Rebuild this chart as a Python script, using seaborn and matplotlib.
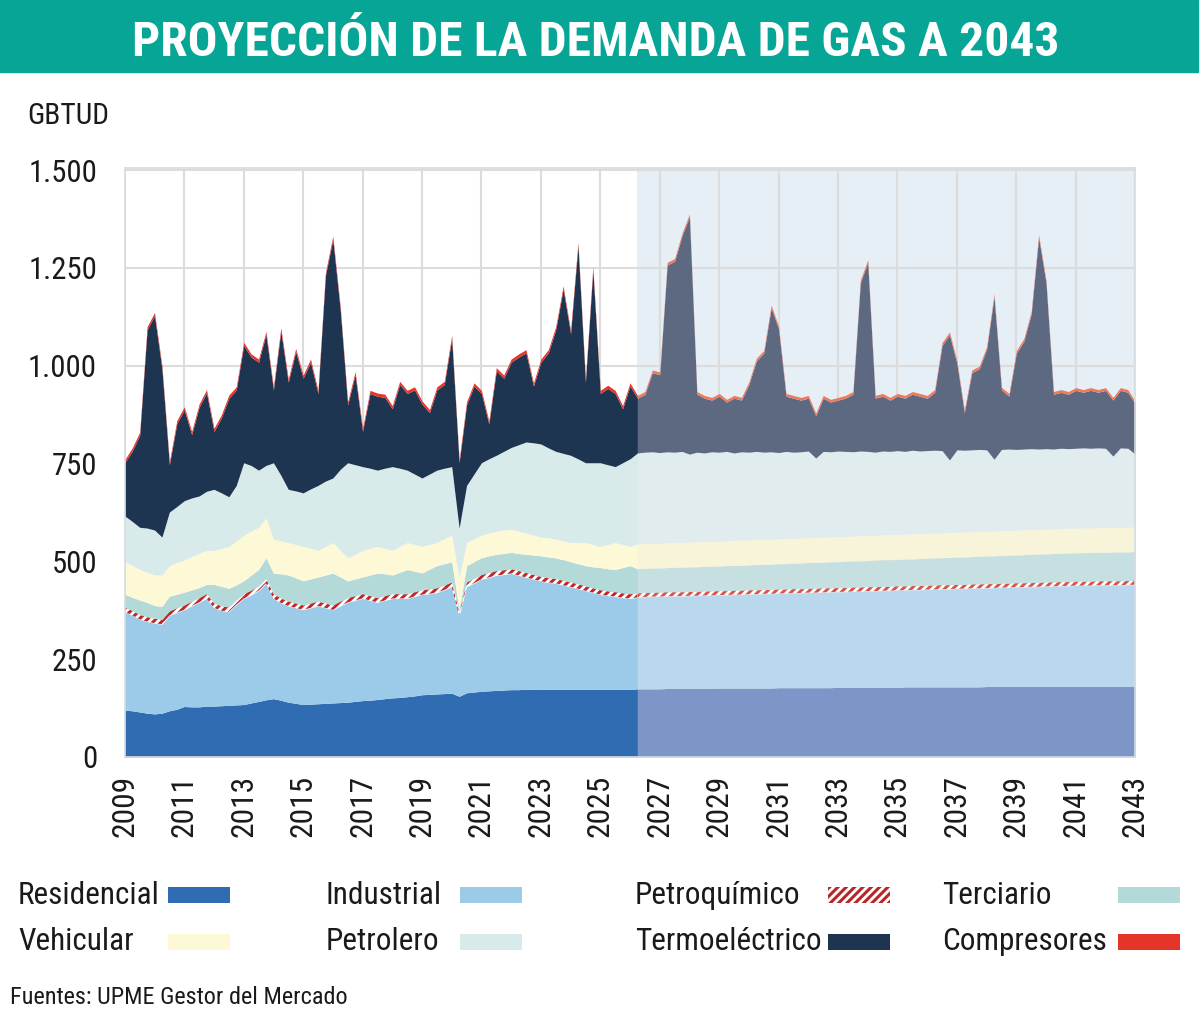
import numpy as np
import matplotlib
matplotlib.use('Agg')
import matplotlib.pyplot as plt
from matplotlib import font_manager as fm
from matplotlib.patches import Rectangle
import seaborn as sns

# eje temporal trimestral 2009 - 2043
periodos = np.arange(2009, 2043.01, 0.25)

# GBTUD por sector (lecturas trimestrales del gráfico, una fila por año)
residencial = [
    120, 118, 115, 112,  110, 112, 118, 122,  129, 128, 128, 130,  130, 131, 132, 133,
    134, 138, 142, 146,  149, 145, 140, 137,  134, 135, 136, 137,  138, 139, 140, 142,
    144, 145, 147, 149,  151, 152, 154, 156,  159, 160, 161, 162,  163, 155, 164, 166,
    168, 169, 170, 171,  172, 172, 173, 173,  173, 173, 173, 173,  173, 173, 173, 173,
    173, 173, 173, 173,  173, 174, 174, 174,  174, 175, 175, 175,  175, 175, 175, 175,
    176, 176, 176, 176,  176, 176, 176, 176,  177, 177, 177, 177,  177, 177, 177, 177,
    178, 178, 178, 178,  178, 178, 178, 178,  178, 179, 179, 179,  179, 179, 179, 179,
    179, 179, 179, 179,  180, 180, 180, 180,  180, 180, 180, 180,  180, 180, 180, 180,
    180, 180, 180, 180,  180, 180, 180, 180,  180]
industrial = [
    251, 244, 237, 234,  232, 227, 243, 247,  247, 258, 267, 275,  251, 243, 239, 256,
    271, 276, 283, 298,  256, 249, 246, 244,  242, 246, 250, 244,  238, 247, 255, 258,
    261, 255, 248, 251,  254, 253, 251, 254,  256, 257, 259, 265,  272, 206, 271, 278,
    286, 290, 294, 295,  297, 292, 286, 281,  276, 273, 271, 266,  262, 257, 252, 247,
    242, 239, 237, 234,  232, 234, 235, 236,  236, 236, 236, 236,  237, 237, 238, 238,
    238, 238, 239, 239,  240, 240, 241, 241,  241, 241, 242, 242,  243, 243, 244, 244,
    244, 244, 245, 245,  246, 246, 247, 247,  248, 247, 248, 248,  249, 249, 250, 250,
    251, 251, 252, 252,  252, 252, 253, 253,  254, 254, 255, 255,  256, 256, 257, 257,
    258, 258, 258, 259,  259, 259, 259, 260,  260]
petroquimico = [
    12, 12, 12, 12,  12, 12, 12, 12,  12, 12, 12, 12,  12, 12, 12, 12,
    12, 12, 12, 12,  12, 12, 12, 12,  12, 12, 12, 12,  12, 12, 12, 12,
    12, 12, 12, 12,  12, 12, 12, 12,  12, 12, 12, 12,  12, 10, 12, 12,
    12, 12, 12, 12,  12, 12, 12, 12,  12, 12, 12, 12,  12, 12, 12, 12,
    12, 12, 12, 12,  12, 11, 11, 11,  11, 11, 11, 11,  11, 11, 11, 11,
    11, 11, 11, 11,  11, 11, 11, 11,  11, 11, 11, 11,  11, 11, 11, 11,
    11, 11, 11, 11,  11, 11, 11, 11,  11, 11, 11, 11,  11, 11, 11, 11,
    11, 11, 11, 11,  11, 11, 11, 11,  11, 11, 11, 11,  11, 11, 11, 11,
    11, 11, 11, 11,  11, 11, 11, 11,  11]
terciario = [
    33, 34, 37, 37,  33, 34, 38, 35,  33, 29, 26, 24,  48, 50, 48, 39,
    33, 39, 42, 53,  53, 62, 67, 65,  62, 62, 62, 72,  82, 62, 43, 43,
    43, 53, 63, 56,  48, 55, 62, 53,  43, 51, 57, 55,  52, 5, 42, 43,
    43, 43, 42, 42,  42, 44, 47, 50,  53, 53, 53, 53,  52, 52, 52, 54,
    57, 57, 57, 65,  72, 62, 62, 62,  62, 62, 63, 63,  63, 63, 63, 64,
    63, 64, 64, 64,  64, 65, 64, 65,  65, 65, 65, 66,  66, 66, 66, 67,
    66, 67, 67, 67,  67, 68, 68, 68,  68, 69, 68, 69,  69, 70, 69, 70,
    70, 70, 70, 71,  71, 71, 71, 72,  71, 72, 72, 73,  72, 73, 73, 73,
    73, 73, 74, 73,  73, 74, 74, 73,  74]
vehicular = [
    83, 82, 78, 77,  78, 80, 78, 81,  83, 85, 87, 87,  87, 97, 107, 112,
    117, 112, 108, 102,  87, 84, 83, 85,  88, 78, 68, 73,  78, 68, 59, 63,
    68, 68, 68, 65,  63, 66, 69, 68,  68, 63, 59, 64,  68, 82, 59, 59,
    58, 58, 59, 60,  59, 57, 54, 51,  48, 49, 48, 48,  49, 54, 59, 57,
    54, 62, 69, 59,  49, 64, 64, 64,  64, 64, 64, 64,  64, 64, 64, 64,
    64, 64, 64, 65,  64, 64, 65, 64,  64, 65, 64, 64,  64, 64, 64, 64,
    65, 64, 64, 65,  65, 64, 64, 65,  64, 64, 65, 64,  64, 64, 64, 64,
    64, 64, 64, 64,  63, 64, 64, 63,  64, 64, 63, 63,  64, 63, 63, 64,
    63, 64, 63, 63,  64, 63, 63, 64,  63]
petrolero = [
    117, 112, 108, 113,  115, 97, 137, 143,  151, 150, 147, 151,  156, 142, 127, 142,
    185, 168, 146, 134,  195, 168, 136, 137,  137, 152, 166, 167,  165, 207, 243, 229,
    214, 205, 195, 205,  214, 200, 185, 180,  175, 180, 185, 180,  175, 127, 146, 165,
    185, 190, 194, 201,  209, 221, 233, 236,  238, 230, 224, 224,  223, 214, 204, 209,
    214, 204, 194, 209,  224, 232, 233, 233,  231, 232, 230, 232,  224, 229, 226, 228,
    227, 228, 223, 225,  224, 225, 222, 223,  220, 222, 220, 220,  221, 203, 219, 217,
    218, 217, 215, 216,  214, 212, 214, 212,  214, 211, 213, 211,  211, 211, 210, 185,
    210, 209, 209, 209,  208, 183, 207, 208,  206, 206, 207, 205,  205, 204, 205, 203,
    204, 204, 203, 204,  202, 182, 203, 201,  186]
termoelectrico = [
    136, 180, 235, 507,  548, 430, 121, 212,  232, 162, 227, 252,  148, 192, 252, 244,
    300, 277, 276, 335,  186, 369, 274, 356,  293, 324, 235, 525,  610, 408, 148, 230,
    90, 191, 189, 181,  148, 214, 196, 215,  189, 157, 205, 214,  328, 167, 206, 225,
    177, 89, 216, 187,  218, 224, 228, 145,  209, 243, 311, 420,  311, 546, 206, 493,
    177, 195, 187, 138,  186, 140, 148, 202,  199, 477, 488, 551,  607, 148, 140, 132,
    143, 126, 140, 132,  173, 231, 253, 368,  316, 141, 138, 132,  135, 108, 136, 127,
    130, 136, 147, 430,  483, 138, 140, 131,  139, 136, 143, 140,  134, 148, 269, 320,
    221, 96, 197, 206,  257, 416, 152, 135,  246, 275, 344, 541,  423, 140, 143, 139,
    148, 142, 148, 142,  148, 143, 147, 143,  128]
compresores = [
    8, 8, 8, 8,  8, 8, 8, 8,  8, 8, 8, 8,  8, 8, 8, 8,
    8, 8, 8, 8,  8, 8, 8, 8,  8, 8, 8, 8,  8, 8, 8, 8,
    8, 8, 8, 8,  8, 8, 8, 8,  8, 8, 8, 8,  8, 8, 8, 8,
    8, 8, 8, 8,  8, 8, 8, 8,  8, 8, 8, 8,  8, 8, 8, 8,
    8, 8, 8, 8,  8, 7, 7, 7,  7, 7, 7, 7,  7, 7, 7, 7,
    7, 7, 7, 7,  7, 7, 7, 7,  7, 7, 7, 7,  7, 7, 7, 7,
    7, 7, 7, 7,  7, 7, 7, 7,  7, 7, 7, 7,  7, 7, 7, 7,
    7, 7, 7, 7,  7, 7, 7, 7,  7, 7, 7, 7,  7, 7, 7, 7,
    7, 7, 7, 7,  7, 7, 7, 7,  7]

sectores = ['Residencial', 'Industrial', 'Petroquímico', 'Terciario',
            'Vehicular', 'Petrolero', 'Termoeléctrico', 'Compresores']
colores = ['#2f6cb2', '#9ccbe9', '#ffffff', '#b4d9d9',
           '#fdf8d6', '#d9eaea', '#1d3550', '#e5352b']
colores_proy = ['#7b96c7', '#b9d8ee', '#ffffff', '#c6e0e1',
                '#f8f4da', '#e1ecef', '#5d6981', '#ee7a5e']
corte = 69  # índice de 2026.25, inicio de la proyección

sns.set_theme(style='whitegrid')

# fuente estrecha si existe, si no Liberation Sans
fuentes = fm.fontManager.ttflist
nombres = {f.name for f in fuentes}
estrecha = None
for n in ['Liberation Sans Narrow', 'Roboto Condensed', 'Open Sans Condensed',
          'DejaVu Sans Condensed', 'Noto Sans Condensed']:
    if n in nombres:
        estrecha = n
        break
if estrecha is None and any(f.name == 'DejaVu Sans' and 'condensed' in str(f.stretch)
                            for f in fuentes):
    plt.rcParams['font.stretch'] = 'condensed'
    estrecha = 'DejaVu Sans'
if estrecha is None:
    estrecha = 'Liberation Sans'
plt.rcParams['font.family'] = [estrecha, 'DejaVu Sans']
plt.rcParams['hatch.linewidth'] = 2.2

fig = plt.figure(figsize=(12, 10.17), dpi=100)
ax = fig.add_axes([0.104, 0.2557, 0.842, 0.579])

series = [residencial, industrial, petroquimico, terciario,
          vehicular, petrolero, termoelectrico, compresores]

# fondo de la zona de proyección
ax.axvspan(periodos[corte], 2043, color='#e6eef6', lw=0, zorder=0.1)

hist = ax.stackplot(periodos[:corte + 1], *[s[:corte + 1] for s in series],
                    colors=colores, linewidth=0, zorder=2)
proy = ax.stackplot(periodos[corte:], *[s[corte:] for s in series],
                    colors=colores_proy, linewidth=0, zorder=2)
hist[2].set_hatch('////')
hist[2].set_edgecolor('#c0282a')
proy[2].set_hatch('////')
proy[2].set_edgecolor('#d5564c')

ax.set_xlim(2009, 2043)
ax.set_ylim(0, 1505)
ax.set_yticks([0, 250, 500, 750, 1000, 1250, 1500])
ax.set_yticklabels(['0', '250', '500', '750', '1.000', '1.250', '1.500'], fontsize=24)
ax.set_xticks(range(2009, 2044, 2))
ax.set_xticklabels([str(a) for a in range(2009, 2044, 2)], rotation=90, fontsize=24)
ax.tick_params(axis='both', length=0, colors='#1a1a1a')
ax.tick_params(axis='x', pad=13)
ax.tick_params(axis='y', pad=20)
ax.grid(True, color='#dcdcdc', lw=1.5)
ax.set_axisbelow(True)
ax.set_facecolor('white')
for s in ax.spines.values():
    s.set_color('#d5dbe2')
    s.set_linewidth(1.2)

# banda de título
fig.patches.append(Rectangle((0, 1 - 72 / 1017), 0.998, 72 / 1017,
                             transform=fig.transFigure, color='#07a596', zorder=0))
titulo = fig.text(0.496, 0.958, 'PROYECCIÓN DE LA DEMANDA DE GAS A 2043', color='white',
                  fontsize=38, fontweight='bold', ha='center', va='center')
unidad = fig.text(0.023, 1 - 116 / 1017, 'GBTUD', fontsize=22, va='center', color='#1a1a1a')

# leyenda manual: texto y luego muestra de color
col_txt = [18, 326, 635, 942]
col_patch = [168, 460, 828, 1118]
filas = [895, 942]
orden = [[0, 1, 2, 3], [4, 5, 6, 7]]
etiquetas = []
for r, fila in enumerate(orden):
    for c, idx in enumerate(fila):
        yc = 1 - filas[r] / 1017
        etiquetas.append(fig.text(col_txt[c] / 1200, yc, sectores[idx], fontsize=24,
                                  va='center', ha='left', color='#1a1a1a'))
        if idx == 2:
            rect = Rectangle((col_patch[c] / 1200, yc - 8 / 1017), 62 / 1200, 16 / 1017,
                             transform=fig.transFigure, facecolor='white',
                             edgecolor='#b8262a', hatch='////', lw=0)
        else:
            rect = Rectangle((col_patch[c] / 1200, yc - 8 / 1017), 62 / 1200, 16 / 1017,
                             transform=fig.transFigure, facecolor=colores[idx], lw=0)
        fig.patches.append(rect)

fuente = fig.text(0.008, 1 - 997 / 1017, 'Fuentes: UPME Gestor del Mercado', fontsize=18,
                  va='center', color='#1a1a1a')

# ajustar tamaños para que los anchos coincidan con la referencia
fig.canvas.draw()
rend = fig.canvas.get_renderer()


def factor(t, largo):
    bb = t.get_window_extent(rend)
    return largo / max(bb.width, bb.height)


for t, largo in [(titulo, 925), (unidad, 82), (fuente, 338)]:
    t.set_fontsize(t.get_fontsize() * factor(t, largo))
f_leg = factor(etiquetas[0], 142)
for t in etiquetas:
    t.set_fontsize(t.get_fontsize() * f_leg)
f_y = factor(ax.get_yticklabels()[-1], 69)
for t in ax.get_yticklabels():
    t.set_fontsize(t.get_fontsize() * f_y)
f_x = factor(ax.get_xticklabels()[0], 62)
for t in ax.get_xticklabels():
    t.set_fontsize(t.get_fontsize() * f_x)

fig.savefig('out.png', dpi=100)
